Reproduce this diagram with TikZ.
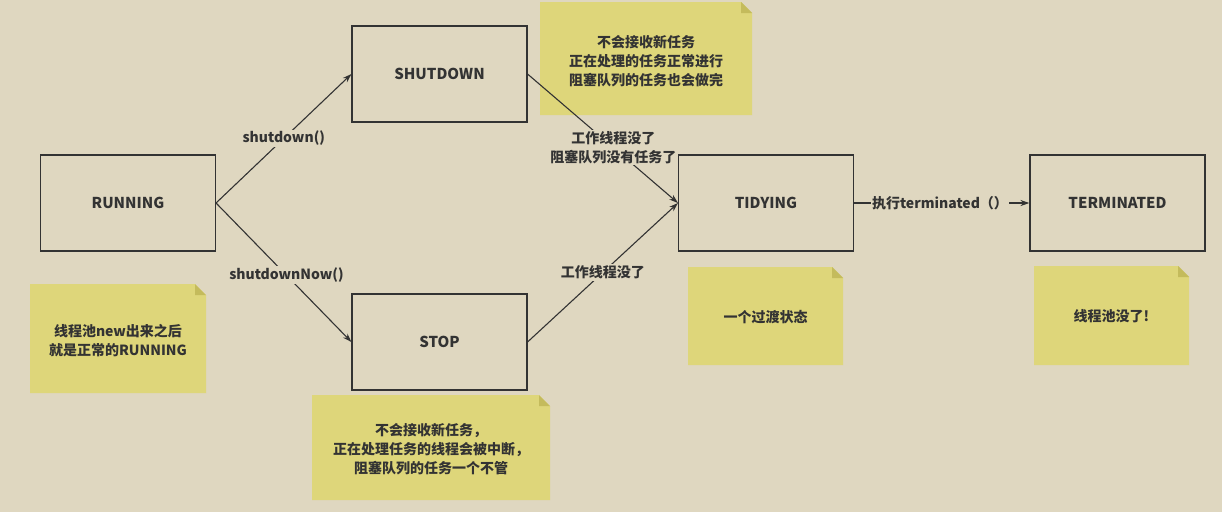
\documentclass[tikz,border=0pt]{standalone}
\usepackage{fontspec}
\setmainfont{Noto Sans CJK SC}
\usetikzlibrary{arrows.meta}
\definecolor{bgc}{HTML}{DFD7C0}
\definecolor{notec}{HTML}{DED67A}
\definecolor{foldc}{HTML}{C4BB5C}
\definecolor{inkc}{HTML}{333333}
\tikzset{
  state/.style={draw=inkc, line width=1.1pt, minimum width=175pt, minimum height=96pt, inner sep=0pt,
    font=\fontsize{15pt}{19pt}\selectfont\bfseries, text=inkc},
  conn/.style={draw=inkc, line width=1.1pt, -{Stealth[length=9pt,width=6pt]}},
  lbl/.style={fill=bgc, inner sep=1.5pt, font=\fontsize{14pt}{19pt}\selectfont\bfseries, text=inkc, align=center},
  notetext/.style={font=\fontsize{14pt}{19pt}\selectfont\bfseries, text=inkc, align=center, inner sep=0pt}
}
\newcommand{\stickynote}[5]{%
  % #1 x1, #2 y1, #3 x2, #4 y2, #5 name
  \fill[notec] (#1,#2) -- (#3-11,#2) -- (#3,#2+11) -- (#3,#4) -- (#1,#4) -- cycle;
  \fill[foldc] (#3-11,#2) -- (#3-11,#2+11) -- (#3,#2+11) -- cycle;
  \coordinate (#5) at ({(#1+#3)/2},{(#2+#4)/2});
}
\begin{document}
\begin{tikzpicture}[x=1pt,y=-1pt]
\fill[bgc] (0,0) rectangle (1222,512);
\useasboundingbox (0,0) rectangle (1222,512);

% states
\node[state] (run) at (128,203) {RUNNING};
\node[state] (shut) at (439.5,74) {SHUTDOWN};
\node[state] (stop) at (439.5,342) {STOP};
\node[state] (tidy) at (766,203) {TIDYING};
\node[state] (term) at (1117.5,203) {TERMINATED};

% notes
\stickynote{540}{2}{752}{115}{n1}
\node[notetext] at ([yshift=-3pt]n1) {不会接收新任务\\正在处理的任务正常进行\\阻塞队列的任务也会做完};
\stickynote{30}{284}{206}{393}{n2}
\node[notetext] at ([yshift=-2pt]n2) {线程池new出来之后\\就是正常的RUNNING};
\stickynote{312}{395}{550}{500}{n3}
\node[notetext] at ([yshift=-2pt]n3) {不会接收新任务，\\正在处理任务的线程会被中断，\\阻塞队列的任务一个不管};
\stickynote{688}{267}{843}{365}{n4}
\node[notetext] at ([yshift=-1pt]n4) {一个过渡状态};
\stickynote{1034}{266}{1189}{365}{n5}
\node[notetext] at ([yshift=-1pt]n5) {线程池没了!};

% connectors
\draw[conn] (run.east) -- node[lbl, pos=0.5] {shutdown()} (shut.west);
\draw[conn] (run.east) -- node[lbl, pos=0.52] {shutdownNow()} (stop.west);
\draw[conn] (shut.east) -- node[lbl, pos=0.57] {工作线程没了\\阻塞队列没有任务了} (tidy.west);
\draw[conn] (stop.east) -- node[lbl, pos=0.5] {工作线程没了} (tidy.west);
\draw[conn] (tidy.east) -- node[lbl, pos=0.49] {执行terminated（）} (term.west);
\end{tikzpicture}
\end{document}
